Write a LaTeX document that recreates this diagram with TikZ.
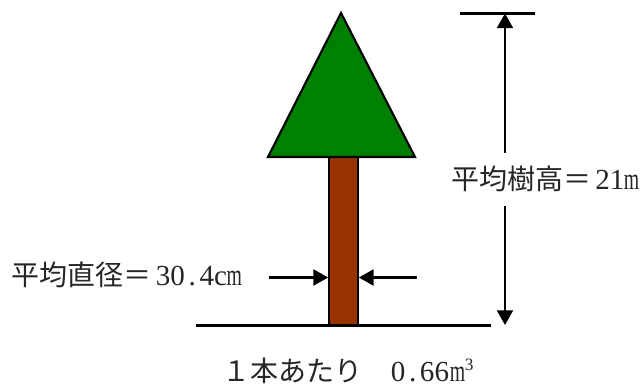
\documentclass[tikz,border=0pt]{standalone}
\usepackage{fontspec}
\usepackage{graphicx}
\usetikzlibrary{arrows.meta}
\setmainfont{Liberation Serif}
\newfontfamily\jpfont{Noto Sans CJK JP}
\definecolor{leaf}{RGB}{0,128,0}
\definecolor{bark}{RGB}{153,51,0}
\newcommand{\jp}[1]{{\jpfont #1}}
\newcommand{\lat}[1]{{\fontsize{21.8}{24}\selectfont #1}}
\newcommand{\hw}[1]{\makebox[10.9pt][c]{\scalebox{0.68}[1.05]{#1}}}
\newcommand{\dotw}{\makebox[10.9pt][c]{.}}
\tikzset{
  shapeline/.style={draw=black,line width=1.6pt,line join=miter},
  rule/.style={draw=black,line width=1.6pt},
  dim/.style={draw=black,line width=1.6pt,-{Triangle[length=11pt,width=12pt]}},
  lbl/.style={inner sep=0pt,font=\fontsize{21}{24}\selectfont,anchor=base west,text=black!85}
}
\begin{document}
\begin{tikzpicture}[x=0.75pt,y=-0.75pt]
\useasboundingbox (0,0) rectangle (644,385);
\fill[white] (0,0) rectangle (644,385);
% ground and trunk
\coordinate (gl) at (196,325.5);
\coordinate (gr) at (491,325.5);
\draw[rule] (gl) -- (gr);
\node[shapeline,fill=bark,minimum width=21.5pt,minimum height=126pt,inner sep=0pt] (trunk) at (343.5,241) {};
\path[shapeline,fill=leaf] (341,13) coordinate (apex) -- (415,157) -- (268,157) -- cycle;
% height dimension
\coordinate (tl) at (460,13.5);
\coordinate (tr) at (535,13.5);
\coordinate (topend) at (505,13.5);
\coordinate (botend) at (505,325);
\draw[rule] (tl) -- (tr);
\node[lbl] (hlabel) at (451,190) {\jp{平均樹高＝}\hspace{3pt}\lat{21\hw{m}}};
\coordinate (hup) at (505,153);
\coordinate (hdown) at (505,206);
\draw[dim] (hup) -- (topend);
\draw[dim] (hdown) -- (botend);
% diameter
\node[lbl] (dlabel) at (11,286) {\jp{平均直径＝}\hspace{3.5pt}\lat{30\dotw 4c\hw{m}}};
\coordinate (la) at (269,277.5);
\coordinate (ra) at (417,277.5);
\draw[dim] (la) -- (trunk.west |- la);
\draw[dim] (ra) -- (trunk.east |- ra);
% volume
\node[lbl] (vlabel) at (222,381.5) {\jp{１本あたり}\hspace{21.5pt}\lat{0\dotw 66\hspace{1pt}\hw{m}}\raisebox{8.6pt}{\fontsize{13}{13}\selectfont 3}};
\end{tikzpicture}
\end{document}
